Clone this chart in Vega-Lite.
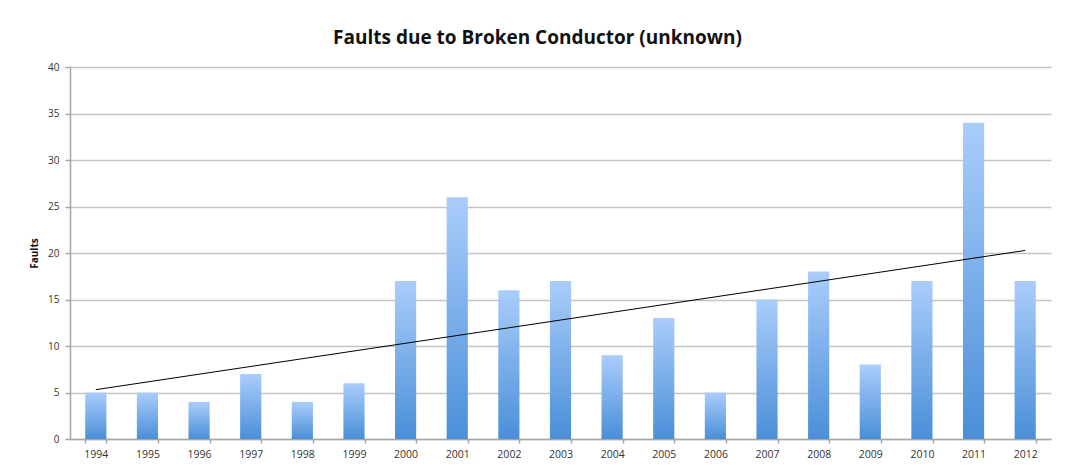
{
  "$schema": "https://vega.github.io/schema/vega-lite/v6.json",
  "width": 981,
  "height": 372,
  "autosize": {"type": "none"},
  "padding": {"left": 70, "top": 67, "right": 17, "bottom": 29},
  "background": "white",
  "title": {
    "text": "Faults due to Broken Conductor (unknown)",
    "font": "Open Sans",
    "fontSize": 19,
    "fontWeight": "bold",
    "color": "#111111",
    "anchor": "middle",
    "dx": -23,
    "offset": 14
  },
  "data": {
    "values": [
      {"year": 1994, "count": 5},
      {"year": 1995, "count": 5},
      {"year": 1996, "count": 4},
      {"year": 1997, "count": 7},
      {"year": 1998, "count": 4},
      {"year": 1999, "count": 6},
      {"year": 2000, "count": 17},
      {"year": 2001, "count": 26},
      {"year": 2002, "count": 16},
      {"year": 2003, "count": 17},
      {"year": 2004, "count": 9},
      {"year": 2005, "count": 13},
      {"year": 2006, "count": 5},
      {"year": 2007, "count": 15},
      {"year": 2008, "count": 18},
      {"year": 2009, "count": 8},
      {"year": 2010, "count": 17},
      {"year": 2011, "count": 34},
      {"year": 2012, "count": 17}
    ]
  },
  "layer": [
    {
      "mark": {
        "type": "bar",
        "color": {
          "gradient": "linear",
          "x1": 0, "y1": 0, "x2": 0, "y2": 1,
          "stops": [
            {"offset": 0, "color": "#aacdfb"},
            {"offset": 1, "color": "#4a8fd8"}
          ]
        }
      },
      "encoding": {
        "x": {
          "field": "year",
          "type": "ordinal",
          "scale": {"paddingInner": 0.59, "paddingOuter": 0.295},
          "axis": {
            "title": null,
            "labelAngle": 0,
            "tickBand": "extent",
            "labelPadding": 6,
            "tickSize": 4,
            "labelFontSize": 10.5
          }
        },
        "y": {
          "field": "count",
          "type": "quantitative",
          "scale": {"domain": [0, 40]},
          "axis": {
            "title": "Faults",
            "values": [0, 5, 10, 15, 20, 25, 30, 35, 40],
            "tickSize": 5,
            "labelPadding": 6,
            "titlePadding": 8,
            "grid": true
          }
        }
      }
    },
    {
      "transform": [{"regression": "count", "on": "year"}],
      "mark": {"type": "line", "color": "#000000", "strokeWidth": 1},
      "encoding": {
        "x": {"field": "year", "type": "ordinal"},
        "y": {"field": "count", "type": "quantitative"}
      }
    }
  ],
  "config": {
    "view": {"stroke": null},
    "axis": {
      "labelFont": "Open Sans",
      "labelFontSize": 10,
      "labelColor": "#333333",
      "titleFont": "Open Sans",
      "titleFontSize": 10,
      "titleFontWeight": "bold",
      "titleColor": "#111111",
      "domainColor": "#a6a6a6",
      "domainWidth": 1.5,
      "tickColor": "#a6a6a6",
      "tickWidth": 1.5,
      "gridColor": "#c4c4c4",
      "gridWidth": 1.5
    }
  }
}
